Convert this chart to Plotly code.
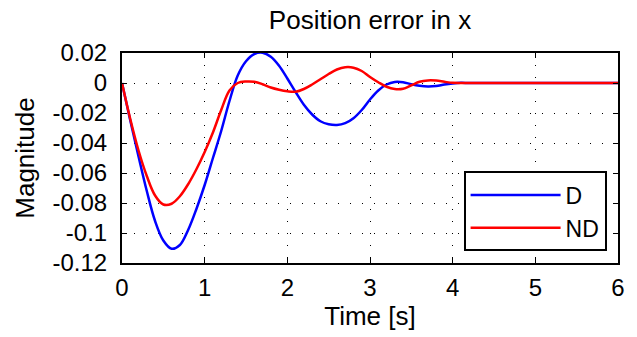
import plotly.graph_objects as go

# Time samples [s]
time = [0.0, 0.1, 0.2, 0.3, 0.4, 0.5, 0.6, 0.7, 0.8, 0.9,
        1.0, 1.1, 1.2, 1.3, 1.4, 1.5, 1.6, 1.7, 1.8, 1.9,
        2.0, 2.1, 2.2, 2.3, 2.4, 2.5, 2.6, 2.7, 2.8, 2.9,
        3.0, 3.1, 3.2, 3.3, 3.4, 3.5, 3.6, 3.7, 3.8, 3.9,
        4.0, 4.1, 4.2, 4.5, 5.0, 5.5, 6.0]

# Series D (blue)
err_d = [0.0, -0.025, -0.049, -0.072, -0.092, -0.105, -0.1105, -0.108, -0.098, -0.084,
         -0.068, -0.050, -0.032, -0.012, 0.005, 0.0145, 0.0193, 0.0202, 0.0175, 0.0115,
         0.003, -0.006, -0.0145, -0.021, -0.0255, -0.0275, -0.028, -0.0268, -0.0235, -0.018,
         -0.011, -0.005, -0.001, 0.0007, 0.0005, -0.0008, -0.0018, -0.0023, -0.002, -0.001,
         -0.0003, 0.0001, 0.0, 0.0, 0.0, 0.0, 0.0]

# Series ND (red)
err_nd = [0.0, -0.024, -0.045, -0.062, -0.075, -0.081, -0.0805, -0.0755, -0.0675, -0.0575,
          -0.046, -0.033, -0.018, -0.005, 0.0, 0.001, 0.0008, -0.0008, -0.003, -0.0045,
          -0.0055, -0.0058, -0.004, -0.001, 0.0025, 0.006, 0.009, 0.0105, 0.0102, 0.008,
          0.004, 0.0005, -0.0025, -0.004, -0.0038, -0.0015, 0.0008, 0.0017, 0.0016, 0.0008,
          0.0001, 0.0, 0.0, 0.0, 0.0, 0.0, 0.0]

x_ticks = [0, 1, 2, 3, 4, 5, 6]
y_ticks = [0.02, 0.0, -0.02, -0.04, -0.06, -0.08, -0.1, -0.12]
y_tick_labels = ["0.02", "0", "-0.02", "-0.04", "-0.06", "-0.08", "-0.1", "-0.12"]

FONT = "Liberation Sans, Arial, sans-serif"

fig = go.Figure()
fig.add_trace(go.Scatter(x=time, y=err_d, mode="lines", name="D",
                         line=dict(color="#0000ff", width=2.5, shape="spline", smoothing=1.0)))
fig.add_trace(go.Scatter(x=time, y=err_nd, mode="lines", name="ND",
                         line=dict(color="#ff0000", width=2.5, shape="spline", smoothing=1.0)))

axis_common = dict(
    showline=True, linecolor="black", linewidth=2, mirror="allticks",
    ticks="inside", ticklen=5, tickcolor="black", tickwidth=1,
    showgrid=True, gridcolor="black", gridwidth=1, griddash="1px,11px",
    zeroline=False, tickfont=dict(family=FONT, size=24, color="black"),
)

fig.update_layout(
    width=637, height=337,
    margin=dict(l=122, r=13, t=53, b=74),
    paper_bgcolor="white", plot_bgcolor="white",
    title=dict(text="Position error in x", x=0.5, xanchor="center", xref="paper",
               y=0.94, yanchor="middle",
               font=dict(family=FONT, size=26, color="black")),
    xaxis=dict(range=[0, 6], tickvals=x_ticks, ticklabelstandoff=2,
               title=dict(text="Time [s]", font=dict(family=FONT, size=26, color="black"), standoff=2),
               **axis_common),
    yaxis=dict(range=[-0.12, 0.02], tickvals=y_ticks, ticktext=y_tick_labels,
               ticklabelstandoff=8,
               title=dict(text="Magnitude", font=dict(family=FONT, size=26, color="black"), standoff=10),
               **axis_common),
    legend=dict(x=0.977, y=0.055, xanchor="right", yanchor="bottom",
                bgcolor="white", bordercolor="black", borderwidth=2,
                font=dict(family=FONT, size=23, color="black"),
                itemwidth=90, tracegroupgap=0),
    showlegend=True,
)

fig.write_html("out.html")
